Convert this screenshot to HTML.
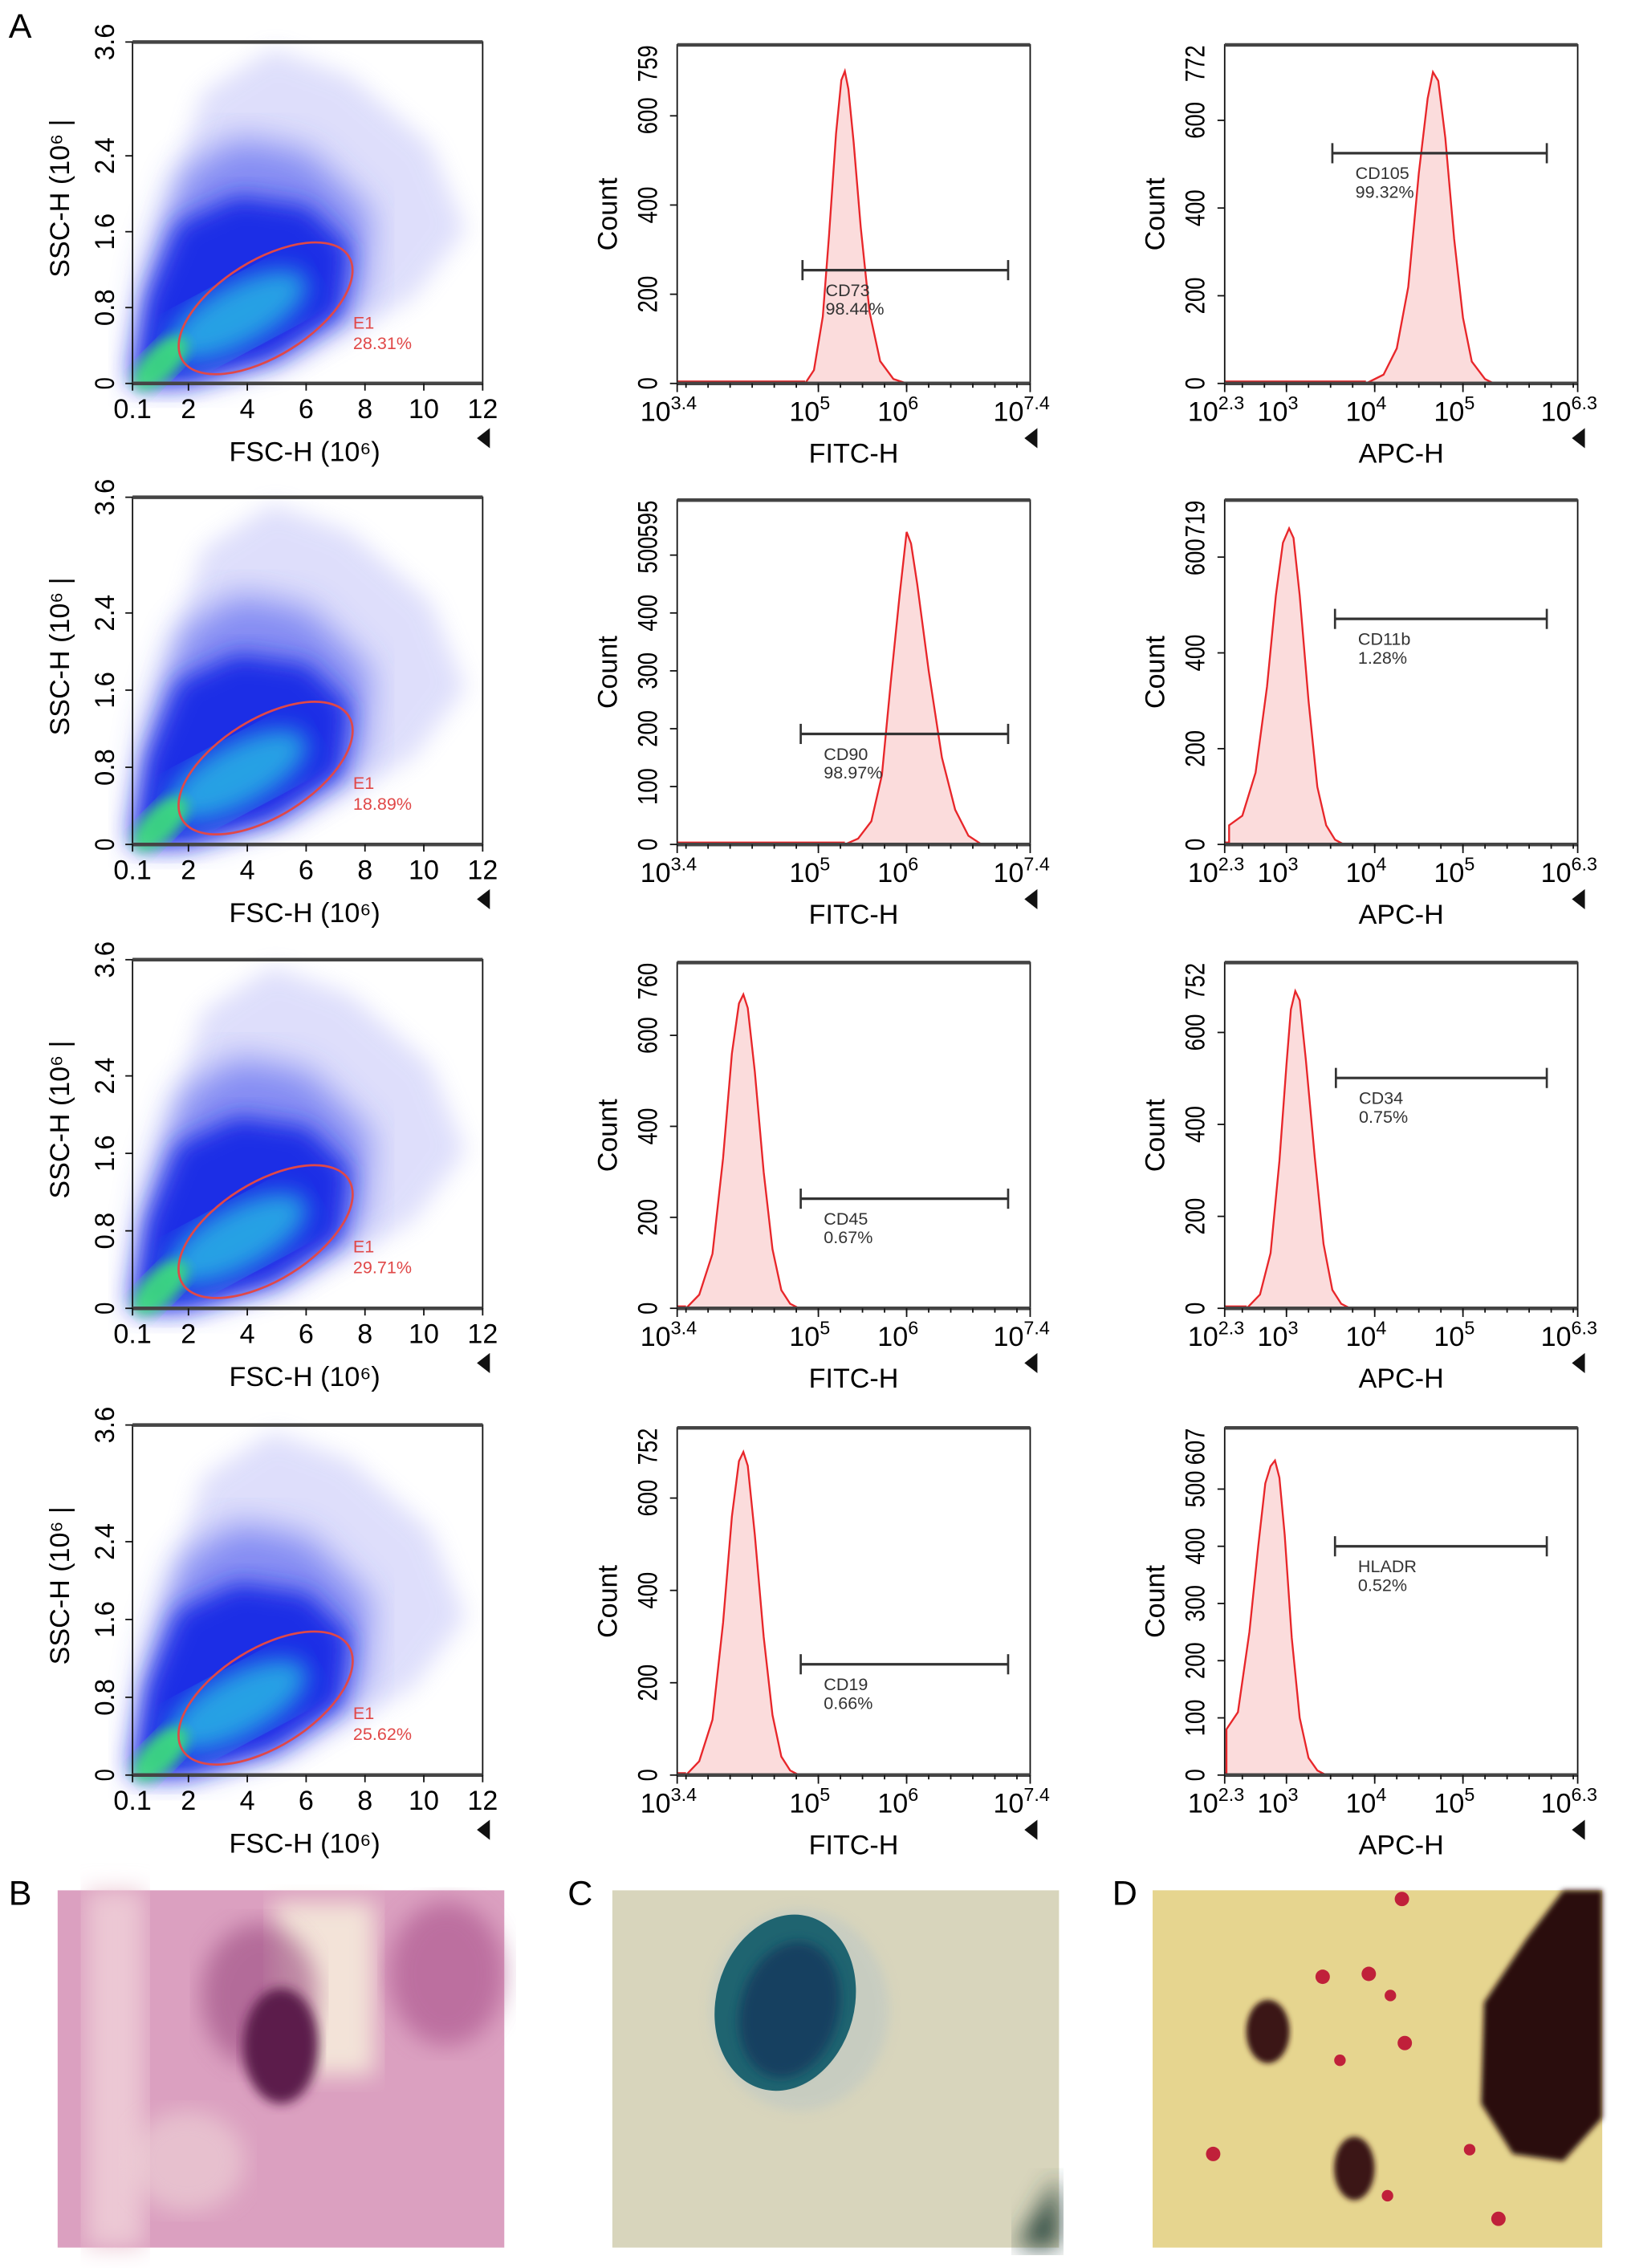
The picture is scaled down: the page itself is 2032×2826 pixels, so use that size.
<!DOCTYPE html>
<html><head><meta charset="utf-8"><style>
html,body{margin:0;padding:0;background:#fff}
svg{display:block}
text{font-family:"Liberation Sans Narrow","Liberation Sans",sans-serif}
</style></head><body>
<svg id="fig" width="2032" height="2826" viewBox="0 0 1132 1574" xmlns="http://www.w3.org/2000/svg">
<defs>
<filter id="blur4"><feGaussianBlur stdDeviation="4"/></filter>
<filter id="blur8"><feGaussianBlur stdDeviation="8"/></filter>
<filter id="blur12"><feGaussianBlur stdDeviation="12"/></filter>
<filter id="blur2"><feGaussianBlur stdDeviation="2"/></filter>
</defs>
<g id="panels"></g>
<text x="6" y="26" font-size="24">A</text>
<g>
<rect x="40" y="1312" width="310" height="248" fill="#dba0c0"/>
<rect x="60" y="1312" width="40" height="248" fill="#ecc8d4" filter="url(#blur8)"/>
<rect x="190" y="1320" width="70" height="120" fill="#f3e3d8" filter="url(#blur8)"/>
<ellipse cx="310" cy="1370" rx="40" ry="50" fill="#a8508a" opacity="0.6" filter="url(#blur8)"/>
<ellipse cx="180" cy="1385" rx="40" ry="50" fill="#9a4a80" opacity="0.6" filter="url(#blur8)"/>
<ellipse cx="195" cy="1420" rx="26" ry="40" fill="#5c1a4c" filter="url(#blur4)"/>
<ellipse cx="130" cy="1500" rx="40" ry="35" fill="#efd6d8" opacity="0.6" filter="url(#blur8)"/>
</g>
<text x="6" y="1322" font-size="24">B</text>
<g>
<rect x="425" y="1312" width="310" height="248" fill="#d8d5bc"/>
<path d="M705,1560 L735,1510 L735,1560 Z" fill="#2f4a40" filter="url(#blur8)"/>
<ellipse cx="555" cy="1395" rx="62" ry="70" fill="#c4cbc2" opacity="0.8" filter="url(#blur4)"/>
<ellipse cx="545" cy="1390" rx="48" ry="62" fill="#1f6470" transform="rotate(15 545 1390)"/>
<ellipse cx="548" cy="1395" rx="34" ry="48" fill="#173f60" transform="rotate(15 548 1395)" filter="url(#blur4)"/>
</g>
<text x="394" y="1322" font-size="24">C</text>
<g>
<rect x="800" y="1312" width="312" height="248" fill="#dcc888"/>
<rect x="800" y="1312" width="312" height="248" fill="#f4e89a" opacity="0.4"/>
<path d="M1112,1312 L1112,1470 L1085,1500 L1050,1495 L1028,1460 L1030,1390 L1060,1345 L1085,1312 Z" fill="#2a0c0c" filter="url(#blur2)"/>
<ellipse cx="880" cy="1410" rx="15" ry="22" fill="#3a1414" filter="url(#blur2)"/>
<ellipse cx="940" cy="1505" rx="14" ry="22" fill="#3a1414" filter="url(#blur2)"/>
<g fill="#c0203a">
<circle cx="950" cy="1370" r="5"/><circle cx="965" cy="1385" r="4"/><circle cx="975" cy="1418" r="5"/><circle cx="918" cy="1372" r="5"/><circle cx="842" cy="1495" r="5"/><circle cx="963" cy="1524" r="4"/><circle cx="1020" cy="1492" r="4"/><circle cx="973" cy="1318" r="5"/><circle cx="930" cy="1430" r="4"/><circle cx="1040" cy="1540" r="5"/>
</g>
</g>
<text x="772" y="1322" font-size="24">D</text>
</svg>
<script>
// ---- data ----
const scatterPercents = ["28.31%", "18.89%", "29.71%", "25.62%"];
const scatterXTicks = [0.1, 2, 4, 6, 8, 10, 12];
const scatterYTicks = [0, 0.8, 1.6, 2.4, 3.6];

const histMarkers = ["CD73", "CD105", "CD90", "CD11b", "CD45", "CD34", "CD19", "HLADR"];
const histPercents = ["98.44%", "99.32%", "98.97%", "1.28%", "0.67%", "0.75%", "0.66%", "0.52%"];
const histYMax = [759, 772, 595, 719, 760, 752, 752, 607];
const histYTicks = [[0,200,400,600],[0,200,400,600],[0,100,200,300,400,500],[0,200,400,600],[0,200,400,600],[0,200,400,600],[0,200,400,600],[0,100,200,300,400,500]];
const histLogX = [
  [4.85,4.95,5.05,5.12,5.2,5.26,5.3,5.34,5.4,5.48,5.58,5.7,5.85,6.0],
  [3.9,4.1,4.25,4.38,4.5,4.6,4.66,4.72,4.8,4.9,5.0,5.1,5.25,5.35],
  [5.3,5.45,5.6,5.72,5.82,5.92,6.0,6.05,6.12,6.25,6.4,6.55,6.7,6.85],
  [2.35,2.5,2.65,2.78,2.88,2.96,3.03,3.08,3.15,3.25,3.35,3.45,3.55,3.65],
  [3.5,3.65,3.8,3.92,4.02,4.1,4.15,4.2,4.28,4.38,4.48,4.58,4.68,4.78],
  [2.55,2.7,2.82,2.92,3.0,3.05,3.1,3.15,3.22,3.32,3.42,3.52,3.62,3.72],
  [3.5,3.65,3.8,3.92,4.02,4.1,4.15,4.2,4.28,4.38,4.48,4.58,4.68,4.78],
  [2.32,2.45,2.58,2.68,2.76,2.82,2.87,2.92,2.98,3.06,3.15,3.25,3.35,3.45]
];
const histCounts = [
  [0,30,150,330,560,680,700,660,540,350,160,50,10,0],
  [0,20,80,220,480,650,710,690,560,330,150,50,10,0],
  [0,10,40,120,280,430,540,520,450,300,150,60,15,0],
  [40,60,150,330,520,630,660,640,520,300,120,40,10,0],
  [0,30,120,330,560,670,690,660,520,300,130,40,10,0],
  [0,30,120,320,530,650,690,670,540,330,140,40,10,0],
  [0,30,120,330,560,680,700,670,520,300,130,40,10,0],
  [80,110,250,400,510,540,550,520,420,240,100,30,8,0]
];
const gateLogStart = [4.82, 3.52, 4.8, 3.55, 4.8, 3.56, 4.8, 3.55];
const gateLogEnd = [7.15, 5.95, 7.15, 5.95, 7.15, 5.95, 7.15, 5.95];
const gateCount = [254, 525, 191, 471, 241, 501, 240, 400];

const rowTops = [31, 347, 668, 991];
const rowBots = [266, 586, 908, 1232];

const NS = "http://www.w3.org/2000/svg";
const root = document.getElementById("panels");
function mk(tag, attrs, parent, txt) {
  const e = document.createElementNS(NS, tag);
  for (const k in attrs) e.setAttribute(k, attrs[k]);
  if (txt !== undefined) e.textContent = txt;
  (parent || root).appendChild(e);
  return e;
}
function frame(g, x0, x1, y0, y1) {
  mk("rect", {x:x0, y:y0, width:x1-x0, height:y1-y0, fill:"none", stroke:"#111", "stroke-width":1}, g);
  mk("line", {x1:x0, x2:x1, y1:y0, y2:y0, stroke:"#444", "stroke-width":2.5}, g);
  mk("line", {x1:x0, x2:x1, y1:y1, y2:y1, stroke:"#444", "stroke-width":2.5}, g);
}
function vtext(g, x, y, s, size, narrow) {
  const a = {x:x, y:y, "font-size":size, "text-anchor":"middle", transform:"rotate(-90 "+x+" "+y+")"};
  if (narrow) { a.textLength = s.length * 8.5; a.lengthAdjust = "spacingAndGlyphs"; }
  return mk("text", a, g, s);
}
function tri(g, x, y) {
  mk("path", {d:"M"+(x+5)+","+(y-7)+" L"+(x+5)+","+(y+7)+" L"+(x-4)+","+y+" Z", fill:"#111"}, g);
}

// ---- scatter plots ----
for (let r = 0; r < 4; r++) {
  const g = mk("g", {});
  
  
  const x0 = 92, x1 = 335, y0 = rowTops[r] - 2, y1 = rowBots[r];
  const W = x1 - x0, H = y1 - y0;
  const sx = v => x0 + (v - 0.1) / (12 - 0.1) * W;
  const sy = v => y1 - v / 3.6 * H;
  const P = (fx, fy) => (x0 + fx*W) + "," + (y1 - fy*H);
  mk("path", {d:"M"+P(0,0)+" L"+P(0.08,0.45)+" L"+P(0.2,0.85)+" L"+P(0.4,0.98)+" L"+P(0.62,0.9)+" L"+P(0.85,0.7)+" L"+P(0.95,0.45)+" L"+P(0.8,0.25)+" L"+P(0.45,0.05)+" Z", fill:"#8a8cf2", opacity:0.28, filter:"url(#blur8)"}, g);
  mk("path", {d:"M"+P(0,0)+" L"+P(0.05,0.35)+" L"+P(0.14,0.62)+" L"+P(0.3,0.72)+" L"+P(0.5,0.68)+" L"+P(0.68,0.5)+" L"+P(0.66,0.25)+" L"+P(0.4,0.08)+" L"+P(0.15,0.0)+" Z", fill:"#3a48ec", opacity:0.55, filter:"url(#blur12)"}, g);
  mk("path", {d:"M"+P(0,0)+" L"+P(0.04,0.25)+" L"+P(0.13,0.47)+" L"+P(0.3,0.55)+" L"+P(0.5,0.52)+" L"+P(0.62,0.4)+" L"+P(0.6,0.2)+" L"+P(0.4,0.07)+" L"+P(0.15,0.0)+" Z", fill:"#1f2fe6", filter:"url(#blur8)"}, g);
  mk("ellipse", {cx:x0+0.3*W, cy:y1-0.2*H, rx:0.22*W, ry:0.09*H, fill:"#2ac8e4", opacity:0.75, transform:"rotate(-28 "+(x0+0.3*W)+" "+(y1-0.2*H)+")", filter:"url(#blur8)"}, g);
  mk("ellipse", {cx:x0+0.08*W, cy:y1-0.06*H, rx:0.1*W, ry:0.05*H, fill:"#3ee07a", opacity:0.9, transform:"rotate(-45 "+(x0+0.08*W)+" "+(y1-0.06*H)+")", filter:"url(#blur4)"}, g);
  const gcx = x0+0.38*W, gcy = y1-0.22*H;
  const gate = mk("ellipse", {cx:gcx, cy:gcy, rx:0.28*W, ry:0.14*H, fill:"none", stroke:"#e04848", "stroke-width":1.5, transform:"rotate(-32 "+gcx+" "+gcy+")"}, g);
  
  
  mk("text", {x:x0+0.63*W, y:y1-0.16*H, "font-size":12, fill:"#e04848"}, g, "E1");
  mk("text", {x:x0+0.63*W, y:y1-0.1*H, "font-size":12, fill:"#e04848"}, g, scatterPercents[r]);
  frame(g, x0, x1, y0, y1);
  scatterXTicks.forEach(v => {
    mk("line", {x1:sx(v), x2:sx(v), y1:y1, y2:y1+5, stroke:"#111"}, g);
    mk("text", {x:sx(v), y:y1+24, "font-size":19, "text-anchor":"middle"}, g, String(v));
  });
  scatterYTicks.forEach(v => {
    mk("line", {x1:x0-5, x2:x0, y1:sy(v), y2:sy(v), stroke:"#111"}, g);
    vtext(g, x0-13, sy(v), String(v), 19, true);
  });
  const yt = vtext(g, 48, (y0+y1)/2 - 10, "SSC-H (10⁶ |", 19);
  
  mk("text", {x:(x0+x1)/2 - 2, y:y1+54, "font-size":19, "text-anchor":"middle"}, g, "FSC-H (10⁶)");
  tri(g, x1, y1+38);
}

// ---- histograms ----
const cols = [{x0:470, lo:3.4, hi:7.4, ticks:[[3.4,"3.4"],[5,"5"],[6,"6"],[7.4,"7.4"]], title:"FITC-H"},
              {x0:850, lo:2.3, hi:6.3, ticks:[[2.3,"2.3"],[3,"3"],[4,"4"],[5,"5"],[6.3,"6.3"]], title:"APC-H"}];
for (let i = 0; i < 8; i++) {
  const r = Math.floor(i / 2), c = cols[i % 2];
  const g = mk("g", {});
  
  
  const x0 = c.x0, x1 = c.x0 + 245, y0 = rowTops[r], y1 = rowBots[r];
  const sx = v => x0 + (v - c.lo) / (c.hi - c.lo) * (x1 - x0);
  const sy = v => y1 - v / histYMax[i] * (y1 - y0);
  let d = "M" + sx(histLogX[i][0]) + "," + y1;
  for (let k = 0; k < histLogX[i].length; k++) d += " L" + sx(histLogX[i][k]) + "," + sy(histCounts[i][k]);
  d += " L" + sx(histLogX[i][histLogX[i].length-1]) + "," + y1 + " Z";
  const h = mk("path", {d:d, fill:"#fbdcdc", stroke:"#e8262a", "stroke-width":1.3}, g);
  
  
  mk("line", {x1:x0, x2:sx(histLogX[i][0]), y1:y1-1.5, y2:y1-1.5, stroke:"#e8262a", "stroke-width":1}, g);
  frame(g, x0, x1, y0, y1);
  const gy = sy(gateCount[i]), ga = sx(gateLogStart[i]), gb = sx(gateLogEnd[i]);
  const gl = mk("g", {}, g);
  
  
  mk("line", {x1:ga, x2:gb, y1:gy, y2:gy, stroke:"#333", "stroke-width":1.8}, gl);
  mk("line", {x1:ga, x2:ga, y1:gy-7, y2:gy+7, stroke:"#333", "stroke-width":1.5}, gl);
  mk("line", {x1:gb, x2:gb, y1:gy-7, y2:gy+7, stroke:"#333", "stroke-width":1.5}, gl);
  mk("text", {x:ga+16, y:gy+18, "font-size":12, fill:"#333"}, g, histMarkers[i]);
  mk("text", {x:ga+16, y:gy+31, "font-size":12, fill:"#333"}, g, histPercents[i]);
  histYTicks[i].forEach(v => {
    mk("line", {x1:x0-5, x2:x0, y1:sy(v), y2:sy(v), stroke:"#111"}, g);
    vtext(g, x0-14, sy(v), String(v), 19, true);
  });
  vtext(g, x0-14, y0+13, String(histYMax[i]), 19, true);
  c.ticks.forEach(t => {
    mk("line", {x1:sx(t[0]), x2:sx(t[0]), y1:y1, y2:y1+6, stroke:"#111"}, g);
    const tx = mk("text", {x:sx(t[0])-6, y:y1+26, "font-size":19, "text-anchor":"middle"}, g, "10");
    mk("tspan", {dy:-8, "font-size":13}, tx, t[1]);
  });
  for (let v = Math.ceil(c.lo*4)/4; v < c.hi; v += 0.25) mk("line", {x1:sx(v), x2:sx(v), y1:y1, y2:y1+3, stroke:"#111"}, g);
  vtext(g, x0-42, (y0+y1)/2, "Count", 19);
  mk("text", {x:(x0+x1)/2, y:y1+55, "font-size":19, "text-anchor":"middle"}, g, c.title);
  tri(g, x1, y1+38);
}
</script>
</body></html>
